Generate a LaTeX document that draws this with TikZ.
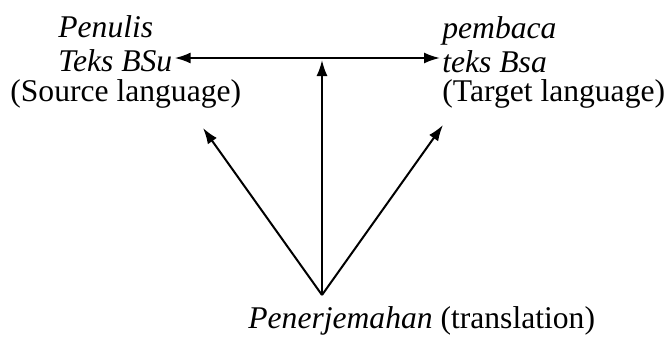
\documentclass[tikz,border=0pt]{standalone}
\usepackage{fontspec}
\setmainfont{Liberation Serif}
\usetikzlibrary{arrows.meta}
\begin{document}
\begin{tikzpicture}[x=0.5pt,y=-0.5pt,
  lbl/.style={anchor=base west,inner sep=0pt,font=\fontsize{15.8}{18}\selectfont},
  tip/.style={Latex[length=8pt,width=5.5pt]},
  arr/.style={line width=1pt,-{Latex[length=8pt,width=5.5pt]}}]
  \useasboundingbox (0,0) rectangle (671,338);
  % teks
  \node[lbl] (pen1) at (58,37) {\textit{Penulis}};
  \node[lbl] (pen2) at (58,71) {\textit{Teks BSu}};
  \node[lbl] (pen3) at (10,101) {(Source language)};
  \node[lbl] (pem1) at (442,38) {\textit{pembaca}};
  \node[lbl] (pem2) at (442,72) {\textit{teks Bsa}};
  \node[lbl] (pem3) at (442,101) {(Target language)};
  \node[lbl] (trans) at (248,328) {\textit{Penerjemahan} (translation)};
  % titik
  \coordinate (apex) at (322,295);
  \coordinate (mid) at (322,58);
  \coordinate (lt) at (203,128);
  \coordinate (rt) at (443,125);
  % panah
  \draw[line width=1pt,{Latex[length=8pt,width=5.5pt]}-{Latex[length=8pt,width=5.5pt]}]
    ([xshift=1pt]pen2.east |- mid) -- ([xshift=-1pt]pem2.west |- mid);
  \draw[arr] (apex) -- ([yshift=-1pt]mid);
  \draw[arr] (apex) -- (lt);
  \draw[arr] (apex) -- (rt);
\end{tikzpicture}
\end{document}
